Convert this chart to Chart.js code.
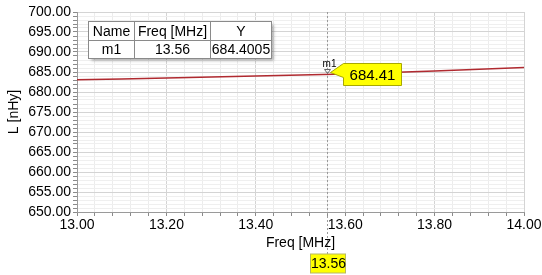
<!DOCTYPE html>
<html>
<head>
<meta charset="utf-8">
<script src="https://cdn.jsdelivr.net/npm/chart.js@4.4.1/dist/chart.umd.min.js"></script>
<style>
  html, body { margin: 0; padding: 0; background: #ffffff; }
  #wrap { width: 542px; height: 275px; }
</style>
</head>
<body>
<div id="wrap"><canvas id="plot"></canvas></div>
<script>
/* --------------- Data --------------------- */
const freqs = [13.0, 13.2, 13.4, 13.6, 13.8, 14.0];
const inductance = [683.05, 683.5, 684.0, 684.5, 685.25, 686.1];
const markerName = "m1";
const markerFreq = 13.56;
const markerValue = 684.4005;
const markerLabel = "684.41";
const tableHeaders = ["Name", "Freq [MHz]", "Y"];
const tableRow = ["m1", "13.56", "684.4005"];

const FONT = "'Liberation Sans', Arial, sans-serif";

/* --------------- Marker + table overlay --------------------- */
const markerPlugin = {
  id: "markerPlugin",
  afterDraw(chart) {
    const ctx = chart.ctx;
    const xs = chart.scales.x;
    const ys = chart.scales.y;
    const area = chart.chartArea;
    const mx = Math.round(xs.getPixelForValue(markerFreq)) + 0.5;
    const my = Math.round(ys.getPixelForValue(markerValue)) - 2.5;

    ctx.save();
    // dashed vertical marker line
    ctx.strokeStyle = "#9a9a9a";
    ctx.lineWidth = 1;
    ctx.setLineDash([2, 2]);
    ctx.beginPath();
    ctx.moveTo(mx, area.top);
    ctx.lineTo(mx, 254);
    ctx.stroke();
    ctx.setLineDash([]);

    // small triangle marker
    ctx.strokeStyle = "#666666";
    ctx.beginPath();
    ctx.moveTo(mx - 3, my - 2);
    ctx.lineTo(mx + 3, my - 2);
    ctx.lineTo(mx, my + 2);
    ctx.closePath();
    ctx.stroke();
    ctx.fillStyle = "#000000";
    ctx.font = "10px " + FONT;
    ctx.textAlign = "center";
    ctx.textBaseline = "bottom";
    ctx.fillText(markerName, mx + 2, my - 2);

    // yellow callout
    const bx = mx + 16, by = my - 8, bw = 58, bh = 22;
    ctx.fillStyle = "#ffff00";
    ctx.strokeStyle = "#a8a800";
    ctx.beginPath();
    ctx.moveTo(mx + 3, my + 1);
    ctx.lineTo(bx, by);
    ctx.lineTo(bx + bw, by);
    ctx.lineTo(bx + bw, by + bh);
    ctx.lineTo(bx, by + bh);
    ctx.lineTo(bx, by + 14);
    ctx.closePath();
    ctx.fill();
    ctx.stroke();
    ctx.fillStyle = "#000000";
    ctx.font = "15px " + FONT;
    ctx.textAlign = "center";
    ctx.textBaseline = "middle";
    ctx.fillText(markerLabel, bx + bw / 2, by + bh / 2 + 1);

    // yellow x label
    ctx.fillStyle = "#ffff00";
    ctx.fillRect(mx - 17, 254, 35, 19);
    ctx.strokeStyle = "#b8b860";
    ctx.strokeRect(mx - 17, 254, 35, 19);
    ctx.fillStyle = "#000000";
    ctx.font = "14px " + FONT;
    ctx.fillText(markerFreq.toFixed(2), mx + 1, 264);

    // marker table
    const tx = 88.5, ty = 21.5;
    const colW = [46, 76, 61];
    const rowH = [19, 18];
    const tw = colW.reduce((a, b) => a + b, 0);
    const th = rowH[0] + rowH[1];
    ctx.shadowColor = "rgba(0,0,0,0.35)";
    ctx.shadowOffsetX = 2;
    ctx.shadowOffsetY = 2;
    ctx.shadowBlur = 3;
    ctx.fillStyle = "#ffffff";
    ctx.fillRect(tx, ty, tw, th);
    ctx.shadowColor = "transparent";
    ctx.strokeStyle = "#8a8a8a";
    ctx.strokeRect(tx, ty, tw, th);
    ctx.beginPath();
    let cx = tx;
    for (let i = 0; i < colW.length - 1; i++) {
      cx += colW[i];
      ctx.moveTo(cx, ty);
      ctx.lineTo(cx, ty + th);
    }
    ctx.moveTo(tx, ty + rowH[0]);
    ctx.lineTo(tx + tw, ty + rowH[0]);
    ctx.stroke();
    ctx.fillStyle = "#000000";
    ctx.font = "14px " + FONT;
    cx = tx;
    for (let i = 0; i < colW.length; i++) {
      ctx.fillText(tableHeaders[i], cx + colW[i] / 2, ty + rowH[0] / 2 + 1);
      ctx.fillText(tableRow[i], cx + colW[i] / 2, ty + rowH[0] + rowH[1] / 2 + 1);
      cx += colW[i];
    }
    ctx.restore();
  },
};

/* --------------- Chart --------------------- */
const isMajorX = (v) => Math.abs(v * 5 - Math.round(v * 5)) < 1e-6;
const isMajorY = (v) => Math.abs(v / 5 - Math.round(v / 5)) < 1e-6;

new Chart(document.getElementById("plot"), {
  type: "line",
  data: {
    datasets: [
      {
        data: freqs.map((f, i) => ({ x: f, y: inductance[i] })),
        borderColor: "#b02a30",
        borderWidth: 1.5,
        pointRadius: 0,
        tension: 0.3,
      },
    ],
  },
  plugins: [markerPlugin],
  options: {
    responsive: true,
    maintainAspectRatio: false,
    animation: false,
    layout: { padding: { top: 12, right: 18, bottom: 23, left: 0 } },
    plugins: { legend: { display: false }, tooltip: { enabled: false } },
    scales: {
      x: {
        type: "linear",
        min: 13,
        max: 14,
        afterFit: (s) => { s.height = 40; s.paddingRight = 0; s.paddingLeft = 0; },
        afterBuildTicks: (s) => {
          const t = [];
          for (let i = 0; i <= 25; i++) t.push({ value: 13 + i * 0.04 });
          s.ticks = t;
        },
        ticks: {
          autoSkip: false,
          maxRotation: 0,
          color: "#000000",
          font: { family: FONT, size: 14 },
          padding: 1,
          callback: (v) => (isMajorX(v) ? v.toFixed(2) : ""),
        },
        grid: {
          color: (c) => (isMajorX(c.tick.value) ? "#d4d4d4" : "#ececec"),
          tickColor: "#8a8a8a",
          tickLength: 4,
        },
        border: { color: "#9a9a9a" },
        title: {
          display: true,
          text: "Freq [MHz]",
          color: "#000000",
          font: { family: FONT, size: 14 },
          padding: { top: 0, bottom: 0 },
        },
      },
      y: {
        min: 650,
        max: 700,
        afterFit: (s) => { s.width = 77; s.paddingTop = 0; s.paddingBottom = 0; },
        afterBuildTicks: (s) => {
          const t = [];
          for (let v = 650; v <= 700; v++) t.push({ value: v });
          s.ticks = t;
        },
        ticks: {
          autoSkip: false,
          color: "#000000",
          font: { family: FONT, size: 14 },
          padding: 2,
          callback: (v) => (isMajorY(v) ? v.toFixed(2) : ""),
        },
        grid: {
          color: (c) => (isMajorY(c.tick.value) ? "#d4d4d4" : "#efefef"),
          tickColor: "#8a8a8a",
          tickLength: 4,
        },
        border: { color: "#9a9a9a" },
        title: {
          display: true,
          text: "L [nHy]",
          color: "#000000",
          font: { family: FONT, size: 14 },
          padding: { top: 6, bottom: 0 },
        },
      },
    },
  },
});
</script>
</body>
</html>
